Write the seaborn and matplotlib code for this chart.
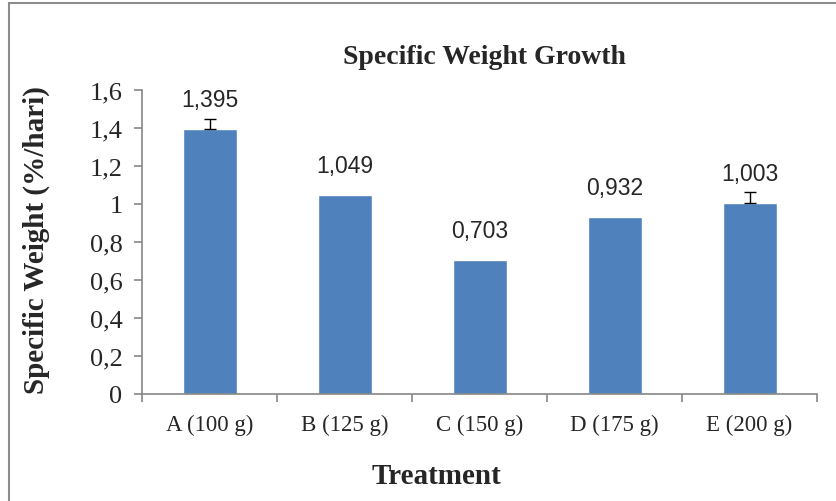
import numpy as np
import pandas as pd
import matplotlib
matplotlib.use('Agg')
import matplotlib.pyplot as plt
from matplotlib.patches import Rectangle
import seaborn as sb

treatments = ['A (100 g)', 'B (125 g)', 'C (150 g)', 'D (175 g)', 'E (200 g)']
growth = [1.395, 1.049, 0.703, 0.932, 1.003]
growth_err = [0.05, 0.0, 0.0, 0.0, 0.06]
value_labels = ['1,395', '1,049', '0,703', '0,932', '1,003']
ytick_values = [0, 0.2, 0.4, 0.6, 0.8, 1.0, 1.2, 1.4, 1.6]
ytick_labels = ['0', '0,2', '0,4', '0,6', '0,8', '1', '1,2', '1,4', '1,6']

df = pd.DataFrame({'Treatment': treatments, 'Growth': growth})

sb.set_style('white')
plt.rcParams['font.family'] = ['Liberation Serif', 'DejaVu Serif']

fig = plt.figure(figsize=(8.36, 5.02), dpi=100)
ax = fig.add_axes([142 / 836, 1 - 395 / 502, (817 - 142) / 836, (395 - 91) / 502])

# outer chart frame
fig.patches.append(Rectangle((9 / 836, -0.05), 1.1, 1 - 4 / 502 + 0.05,
                             transform=fig.transFigure, fill=False,
                             edgecolor='#8c8c8c', linewidth=1.5))

sb.barplot(data=df, x='Treatment', y='Growth', color='#4F81BD', width=0.4,
           saturation=1, ax=ax)

# only the bars that carry an error bar (upper half only)
x = np.arange(len(treatments))
has_err = np.array(growth_err) > 0
ax.errorbar(x[has_err], np.array(growth)[has_err],
            yerr=[np.zeros(has_err.sum()), np.array(growth_err)[has_err]],
            fmt='none', ecolor='black', elinewidth=1, capsize=4, capthick=1)

for xi, val, lab in zip(x, growth, value_labels):
    ax.annotate(lab, (xi, val), xytext=(0, 13), textcoords='offset points',
                ha='center', va='bottom', fontsize=16.5,
                family=['Liberation Sans', 'DejaVu Sans'])

ax.set_ylim(0, 1.6)
ax.set_xlim(-0.5, len(treatments) - 0.5)
ax.set_yticks(ytick_values)
ax.set_yticklabels(ytick_labels, fontsize=19)
ax.set_xticks(x)
ax.set_xticklabels(treatments, fontsize=16.5)
ax.set_xticks(np.arange(-0.5, len(treatments)), minor=True)
ax.tick_params(axis='x', which='major', length=0, pad=14)
ax.tick_params(axis='x', which='minor', length=6, width=1.2, color='#868686', direction='out', bottom=True)
ax.tick_params(axis='y', length=6, width=1.2, color='#868686', direction='out', left=True, pad=8)

for s in ['top', 'right']:
    ax.spines[s].set_visible(False)
for s in ['left', 'bottom']:
    ax.spines[s].set_color('#868686')
    ax.spines[s].set_linewidth(1.2)

ax.set_xlabel('')
ax.set_ylabel('')
fig.text(436 / 836, 1 - 477 / 502, 'Treatment', ha='center', va='center',
         fontsize=21, fontweight='bold')
fig.text(36 / 836, 1 - 240 / 502, 'Specific Weight (%/hari)', ha='center', va='center',
         rotation=90, fontsize=21, fontweight='bold')
fig.text((334 + 634) / 2 / 836, 1 - 58 / 502, 'Specific Weight Growth', ha='center', va='center',
         fontsize=20, fontweight='bold')

plt.savefig('out.png', dpi=100)
